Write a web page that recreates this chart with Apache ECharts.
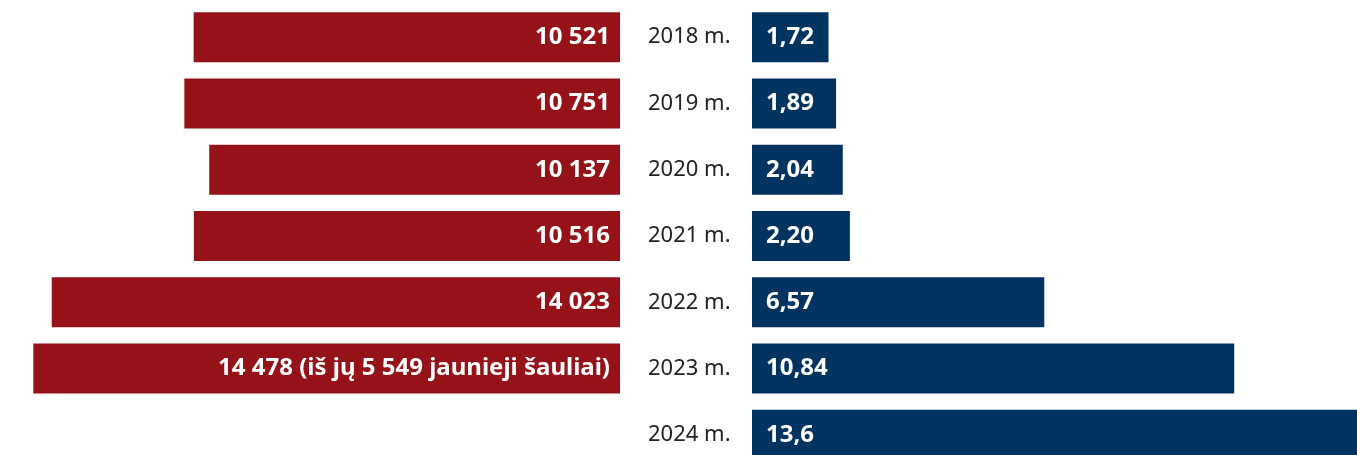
<!DOCTYPE html>
<html>
<head>
<meta charset="utf-8">
<script src="https://cdn.jsdelivr.net/npm/echarts@6/dist/echarts.min.js"></script>
<style>
html,body{margin:0;padding:0;background:#fff;overflow:hidden;}
#chart{width:1357px;height:468px;}
</style>
</head>
<body>
<div id="chart"></div>
<script>
const years = ['2018 m.', '2019 m.', '2020 m.', '2021 m.', '2022 m.', '2023 m.', '2024 m.'];
const members = [10521, 10751, 10137, 10516, 14023, 14478, null];
const memberNotes = ['', '', '', '', '', ' (iš jų 5 549 jaunieji šauliai)', ''];
const funding = [1.72, 1.89, 2.04, 2.20, 6.57, 10.84, 13.6];
const fundingLabels = ['1,72', '1,89', '2,04', '2,20', '6,57', '10,84', '13,6'];

const FONT = 'Noto Sans';
const fmtThousands = v => String(v).replace(/\B(?=(\d{3})+(?!\d))/g, ' ');

const chart = echarts.init(document.getElementById('chart'), null, {renderer: 'canvas'});
chart.setOption({
  animation: false,
  grid: [
    {left: 0, right: 737, top: 4, bottom: 0, containLabel: false},
    {left: 752, right: 0, top: 4, bottom: 0, containLabel: false}
  ],
  xAxis: [
    {gridIndex: 0, type: 'value', inverse: true, min: 0, max: 15300, show: false},
    {gridIndex: 1, type: 'value', min: 0, max: 13.6, show: false}
  ],
  yAxis: [
    {gridIndex: 0, type: 'category', data: years, inverse: true, show: false},
    {gridIndex: 1, type: 'category', data: years, inverse: true,
     axisLine: {show: false}, axisTick: {show: false}, splitLine: {show: false},
     axisLabel: {show: true, align: 'left', margin: 104, color: '#222',
       fontFamily: FONT, fontSize: 22}}
  ],
  series: [
    {
      type: 'bar', xAxisIndex: 0, yAxisIndex: 0, data: members, barWidth: 50,
      itemStyle: {color: '#961219'},
      label: {show: true, position: 'insideRight', distance: 10, color: '#fff',
        fontFamily: FONT, fontWeight: 'bold', fontSize: 24,
        formatter: p => fmtThousands(p.value) + memberNotes[p.dataIndex]}
    },
    {
      type: 'bar', xAxisIndex: 1, yAxisIndex: 1, data: funding, barWidth: 50,
      itemStyle: {color: '#003360'},
      label: {show: true, position: 'insideLeft', distance: 14, color: '#fff',
        fontFamily: FONT, fontWeight: 'bold', fontSize: 24,
        formatter: p => fundingLabels[p.dataIndex]}
    }
  ]
});
</script>
</body>
</html>
